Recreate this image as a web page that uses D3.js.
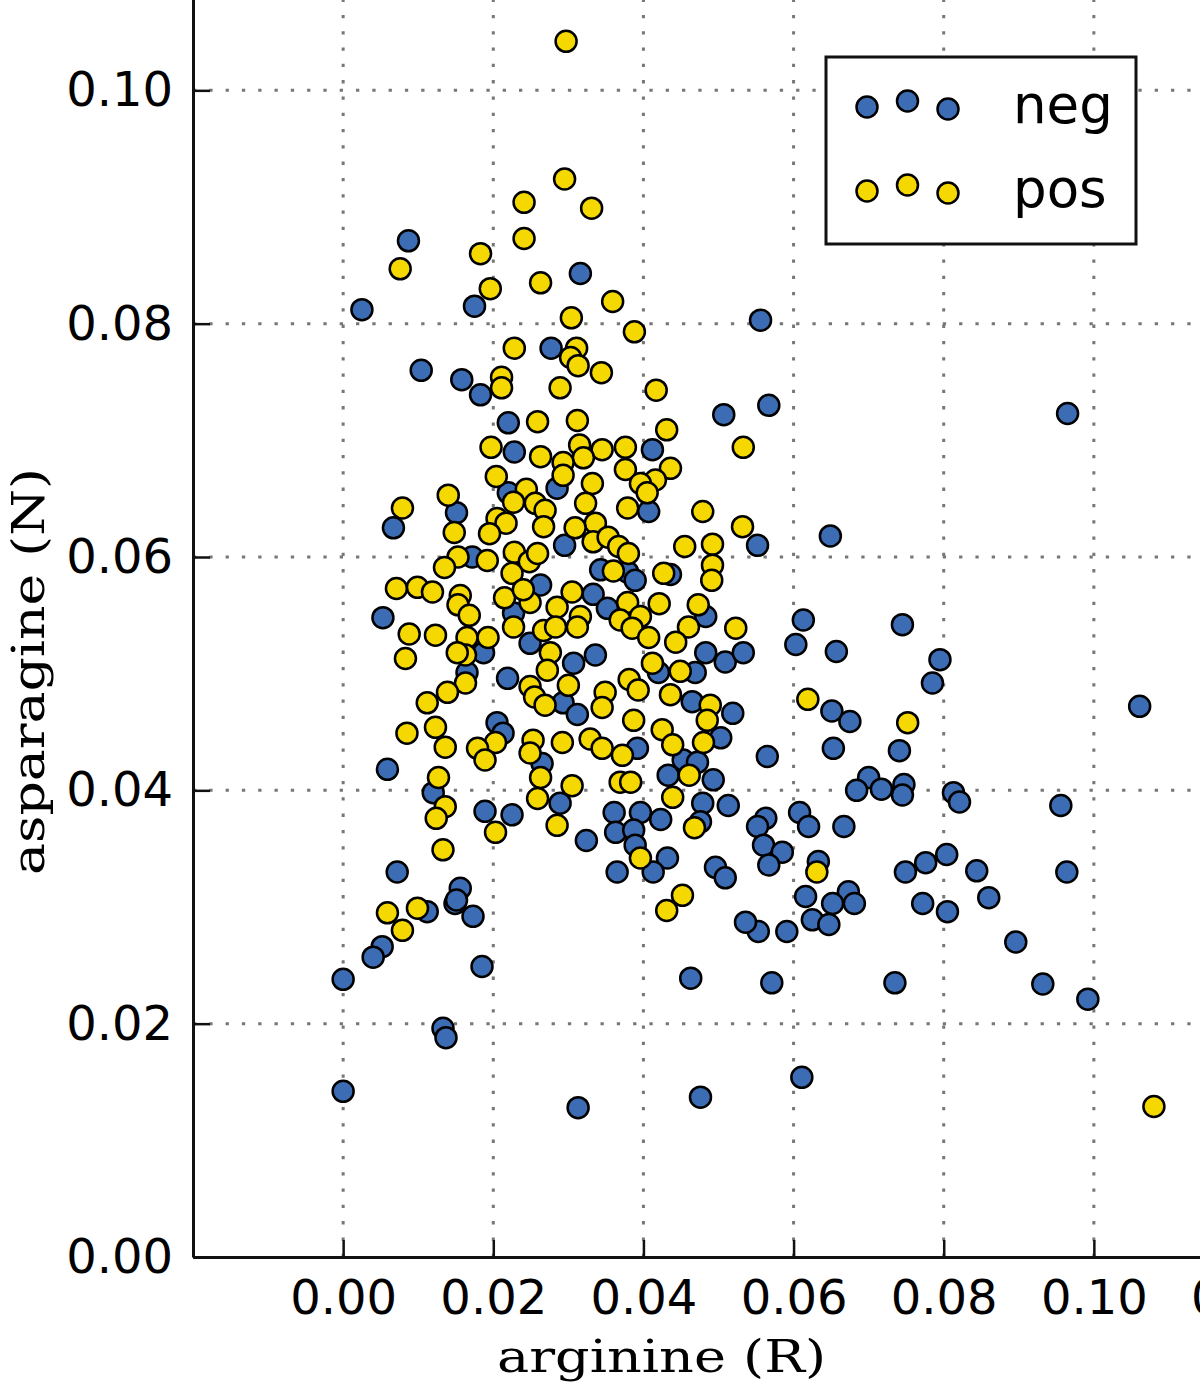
<!DOCTYPE html>
<html>
<head>
<meta charset="utf-8">
<script src="https://cdn.jsdelivr.net/npm/d3@7"></script>
<style>
  body { margin: 0; background: #fff; }
  svg { display: block; }
</style>
</head>
<body>
<svg id="chart"></svg>
<script>
// arginine (R), asparagine (N) pairs
let neg = [
  [0.0087,0.0871],[0.0316,0.0843],[0.0175,0.0815],[0.0025,0.0812],[0.0277,0.0779],[0.0104,0.0760],
  [0.0158,0.0752],[0.0183,0.0739],[0.0556,0.0803],[0.0567,0.0730],[0.0965,0.0723],[0.0552,0.0610],
  [0.0649,0.0618],[0.0613,0.0546],[0.0603,0.0525],[0.0657,0.0519],[0.0745,0.0542],[0.0795,0.0512],
  [0.0785,0.0492],[0.1061,0.0472],[0.0651,0.0468],[0.0675,0.0459],[0.0565,0.0429],[0.0653,0.0436],
  [0.0741,0.0434],[0.0700,0.0411],[0.0684,0.0400],[0.0717,0.0401],[0.0747,0.0405],[0.0745,0.0396],
  [0.0813,0.0398],[0.0821,0.0390],[0.0956,0.0387],[0.0563,0.0376],[0.0552,0.0369],[0.0608,0.0381],
  [0.0620,0.0369],[0.0667,0.0369],[0.0560,0.0353],[0.0585,0.0347],[0.0567,0.0336],[0.0633,0.0339],
  [0.0749,0.0330],[0.0776,0.0338],[0.0804,0.0345],[0.0844,0.0331],[0.0964,0.0330],[0.0616,0.0309],
  [0.0673,0.0313],[0.0681,0.0303],[0.0652,0.0303],[0.0625,0.0289],[0.0647,0.0285],[0.0772,0.0303],
  [0.0805,0.0296],[0.0860,0.0308],[0.0553,0.0279],[0.0536,0.0287],[0.0591,0.0279],[0.0896,0.0270],
  [0.0571,0.0235],[0.0735,0.0235],[0.0932,0.0234],[0.0992,0.0221],[0.0611,0.0154],
  [0.0052,0.0266],[0.0040,0.0257],[0.0000,0.0238],[0.0112,0.0296],[0.0149,0.0303],[0.0173,0.0292],
  [0.0185,0.0249],[0.0133,0.0196],[0.0137,0.0188],[0.0000,0.0142],[0.0313,0.0128],[0.0476,0.0137],
  [0.0463,0.0239],
  [0.0220,0.0715],[0.0228,0.0690],[0.0220,0.0655],[0.0067,0.0625],[0.0151,0.0638],[0.0172,0.0600],
  [0.0263,0.0576],[0.0053,0.0548],[0.0227,0.0552],[0.0249,0.0526],
  [0.0507,0.0722],[0.0412,0.0692],[0.0285,0.0659],[0.0407,0.0639],[0.0295,0.0610],[0.0436,0.0585],
  [0.0343,0.0589],[0.0379,0.0587],[0.0389,0.0580],[0.0333,0.0568],[0.0352,0.0556],[0.0483,0.0549],
  [0.0187,0.0518],[0.0165,0.0501],[0.0219,0.0496],[0.0205,0.0458],[0.0213,0.0449],[0.0265,0.0423],
  [0.0059,0.0418],[0.0120,0.0398],[0.0189,0.0382],[0.0225,0.0379],[0.0072,0.0330],[0.0156,0.0316],
  [0.0151,0.0306],
  [0.0307,0.0509],[0.0336,0.0516],[0.0293,0.0475],[0.0312,0.0465],[0.0420,0.0501],[0.0469,0.0501],
  [0.0483,0.0518],[0.0509,0.0510],[0.0533,0.0518],[0.0465,0.0476],[0.0519,0.0466],[0.0503,0.0445],
  [0.0392,0.0436],[0.0453,0.0426],[0.0433,0.0413],[0.0472,0.0424],[0.0493,0.0409],[0.0289,0.0389],
  [0.0479,0.0389],[0.0513,0.0387],[0.0361,0.0381],[0.0396,0.0381],[0.0423,0.0375],[0.0363,0.0364],
  [0.0387,0.0366],[0.0476,0.0373],[0.0324,0.0357],[0.0389,0.0353],[0.0432,0.0342],[0.0365,0.0330],
  [0.0413,0.0330],[0.0496,0.0334],[0.0509,0.0325]
]

let pos = [
  [0.0297,0.1042],[0.0295,0.0924],[0.0241,0.0904],[0.0331,0.0899],[0.0241,0.0873],[0.0076,0.0847],
  [0.0183,0.0860],[0.0263,0.0835],[0.0196,0.0830],[0.0359,0.0819],[0.0304,0.0805],[0.0388,0.0793],
  [0.0228,0.0779],[0.0311,0.0779],[0.0303,0.0771],[0.0313,0.0764],[0.0344,0.0758],[0.0211,0.0754],
  [0.0211,0.0745],[0.0289,0.0745],[0.0417,0.0743],
  [0.0533,0.0694],[0.0532,0.0626],[0.0619,0.0478],[0.0752,0.0458],[0.0631,0.0330],[0.1080,0.0129],
  [0.0059,0.0295],[0.0099,0.0299],[0.0079,0.0280],[0.0431,0.0297],[0.0452,0.0310],
  [0.0259,0.0716],[0.0197,0.0694],[0.0263,0.0686],[0.0204,0.0669],[0.0244,0.0658],[0.0227,0.0647],
  [0.0256,0.0646],[0.0269,0.0640],[0.0140,0.0653],[0.0079,0.0642],[0.0148,0.0621],[0.0205,0.0633],
  [0.0217,0.0629],[0.0195,0.0620],[0.0267,0.0626],[0.0153,0.0600],[0.0135,0.0591],[0.0192,0.0597],
  [0.0228,0.0604],[0.0248,0.0596],[0.0225,0.0586],[0.0259,0.0603],[0.0071,0.0573],[0.0099,0.0574],
  [0.0119,0.0570],[0.0156,0.0567],[0.0153,0.0559],[0.0168,0.0550],[0.0215,0.0565],[0.0249,0.0561],
  [0.0240,0.0572],[0.0088,0.0534],[0.0123,0.0533],[0.0227,0.0540],[0.0193,0.0531],[0.0267,0.0537],
  [0.0165,0.0531],
  [0.0312,0.0717],[0.0431,0.0709],[0.0315,0.0696],[0.0345,0.0692],[0.0376,0.0694],[0.0320,0.0685],
  [0.0293,0.0681],[0.0293,0.0670],[0.0376,0.0675],[0.0436,0.0676],[0.0332,0.0663],[0.0416,0.0666],
  [0.0396,0.0663],[0.0405,0.0655],[0.0323,0.0646],[0.0379,0.0642],[0.0479,0.0639],[0.0336,0.0629],
  [0.0309,0.0625],[0.0333,0.0613],[0.0353,0.0617],[0.0367,0.0609],[0.0380,0.0603],[0.0455,0.0609],
  [0.0492,0.0611],[0.0492,0.0593],[0.0491,0.0580],[0.0427,0.0586],[0.0360,0.0588],[0.0305,0.0570],
  [0.0379,0.0561],[0.0285,0.0557],[0.0316,0.0549],[0.0421,0.0560],[0.0473,0.0559],[0.0369,0.0546],
  [0.0396,0.0549],[0.0385,0.0539],[0.0283,0.0540],[0.0312,0.0540],[0.0460,0.0540],[0.0523,0.0539],
  [0.0407,0.0531],[0.0443,0.0527],
  [0.0083,0.0513],[0.0163,0.0516],[0.0152,0.0518],[0.0163,0.0492],[0.0139,0.0484],[0.0112,0.0475],
  [0.0249,0.0489],[0.0255,0.0480],[0.0269,0.0473],[0.0085,0.0449],[0.0123,0.0454],[0.0136,0.0437],
  [0.0203,0.0441],[0.0179,0.0436],[0.0189,0.0426],[0.0253,0.0443],[0.0249,0.0432],[0.0127,0.0411],
  [0.0136,0.0386],[0.0124,0.0376],[0.0263,0.0411],[0.0259,0.0393],[0.0203,0.0364],[0.0133,0.0349],
  [0.0285,0.0370],
  [0.0276,0.0518],[0.0272,0.0503],[0.0300,0.0490],[0.0349,0.0484],[0.0345,0.0471],[0.0381,0.0495],
  [0.0393,0.0486],[0.0412,0.0509],[0.0449,0.0502],[0.0436,0.0482],[0.0489,0.0473],[0.0485,0.0460],
  [0.0480,0.0441],[0.0292,0.0441],[0.0329,0.0444],[0.0345,0.0436],[0.0372,0.0430],[0.0387,0.0460],
  [0.0425,0.0452],[0.0439,0.0439],[0.0461,0.0413],[0.0305,0.0404],[0.0369,0.0407],[0.0383,0.0407],
  [0.0439,0.0394],[0.0468,0.0368],[0.0396,0.0342]
]

let xTicks = [0, 0.02, 0.04, 0.06, 0.08, 0.10, 0.12]
let yTicks = [0, 0.02, 0.04, 0.06, 0.08, 0.10]
let legendLabels = ["neg", "pos"]
let legendOffsets = [0, -6, 2]   // the three scatter points in each legend row

let width = 1200
let height = 1389
let left = 193
let bottom = 1257

let blue = "#3c6db4"
let yellow = "#f4d800"

let svg = d3.select("#chart")
  .attr("width", width)
  .attr("height", height)

// the axes run past the picture on the right and top, like the cropped original
let xScale = d3.scaleLinear()
  .domain([-0.02, 0.12])
  .range([left, 1244])
let yScale = d3.scaleLinear()
  .domain([0, 0.12])
  .range([bottom, -143])

let drawGrid = () => {
  let grid = svg.append("g")
    .attr("stroke", "#777")
    .attr("stroke-width", 3)
    .attr("stroke-dasharray", "3.3,13")
  grid.selectAll(".vgrid")
    .data(xTicks)
    .enter()
    .append("line")
    .attr("x1", d => xScale(d))
    .attr("x2", d => xScale(d))
    .attr("y1", bottom)
    .attr("y2", yScale(0.12))
  grid.selectAll(".hgrid")
    .data(yTicks.slice(1))
    .enter()
    .append("line")
    .attr("y1", d => yScale(d))
    .attr("y2", d => yScale(d))
    .attr("x1", left)
    .attr("x2", xScale(0.12))
}

let drawDots = (data, color) => {
  svg.append("g")
    .selectAll("circle")
    .data(data)
    .enter()
    .append("circle")
    .attr("cx", d => xScale(d[0]))
    .attr("cy", d => yScale(d[1]))
    .attr("r", 10.5)
    .attr("fill", color)
    .attr("stroke", "#000")
    .attr("stroke-width", 2.5)
}

let drawAxes = () => {
  let fmt = d3.format(".2f")
  let xAxis = d3.axisBottom(xScale)
    .tickValues(xTicks)
    .tickFormat(fmt)
    .tickSizeInner(-17)
    .tickSizeOuter(0)
    .tickPadding(23)
  let yAxis = d3.axisLeft(yScale)
    .tickValues(yTicks)
    .tickFormat(fmt)
    .tickSizeInner(-17)
    .tickSizeOuter(0)
    .tickPadding(20)

  let gx = svg.append("g")
    .attr("transform", "translate(0," + bottom + ")")
    .call(xAxis)
  let gy = svg.append("g")
    .attr("transform", "translate(" + left + ",0)")
    .call(yAxis)

  ;[gx, gy].forEach(g => {
    g.select(".domain").attr("stroke", "#111").attr("stroke-width", 3)
    g.selectAll(".tick line").attr("stroke", "#111").attr("stroke-width", 2.5)
    g.selectAll(".tick text")
      .attr("fill", "#000")
      .style("font-family", "'DejaVu Sans', sans-serif")
      .style("font-size", "48px")
  })

  svg.append("text")
    .text("arginine (R)")
    .attr("x", 497)
    .attr("y", 1372)
    .attr("textLength", 329)
    .attr("lengthAdjust", "spacingAndGlyphs")
    .style("font-family", "'DejaVu Serif', serif")
    .style("font-size", "45px")

  svg.append("text")
    .text("asparagine (N)")
    .attr("transform", "translate(44,875) rotate(-90)")
    .attr("textLength", 407)
    .attr("lengthAdjust", "spacingAndGlyphs")
    .style("font-family", "'DejaVu Serif', serif")
    .style("font-size", "45px")
}

let drawLegend = () => {
  let lg = svg.append("g")
  lg.append("rect")
    .attr("x", 826)
    .attr("y", 57)
    .attr("width", 310)
    .attr("height", 187)
    .attr("fill", "#fff")
    .attr("stroke", "#111")
    .attr("stroke-width", 3)

  let rows = lg.selectAll(".row")
    .data(legendLabels)
    .enter()
    .append("g")
    .attr("transform", (d, i) => "translate(0," + (107 + i * 84) + ")")

  rows.selectAll("circle")
    .data((d, i) => legendOffsets.map(o => ({ o: o, c: i === 0 ? blue : yellow })))
    .enter()
    .append("circle")
    .attr("cx", (d, j) => 867 + j * 40.5)
    .attr("cy", d => d.o)
    .attr("r", 10.5)
    .attr("fill", d => d.c)
    .attr("stroke", "#000")
    .attr("stroke-width", 2.5)

  rows.append("text")
    .text(d => d)
    .attr("x", 1013)
    .attr("y", 16)
    .style("font-family", "'DejaVu Sans', sans-serif")
    .style("font-size", "53px")
}

drawGrid()
drawDots(neg, blue)
drawDots(pos, yellow)
drawAxes()
drawLegend()
</script>
</body>
</html>
